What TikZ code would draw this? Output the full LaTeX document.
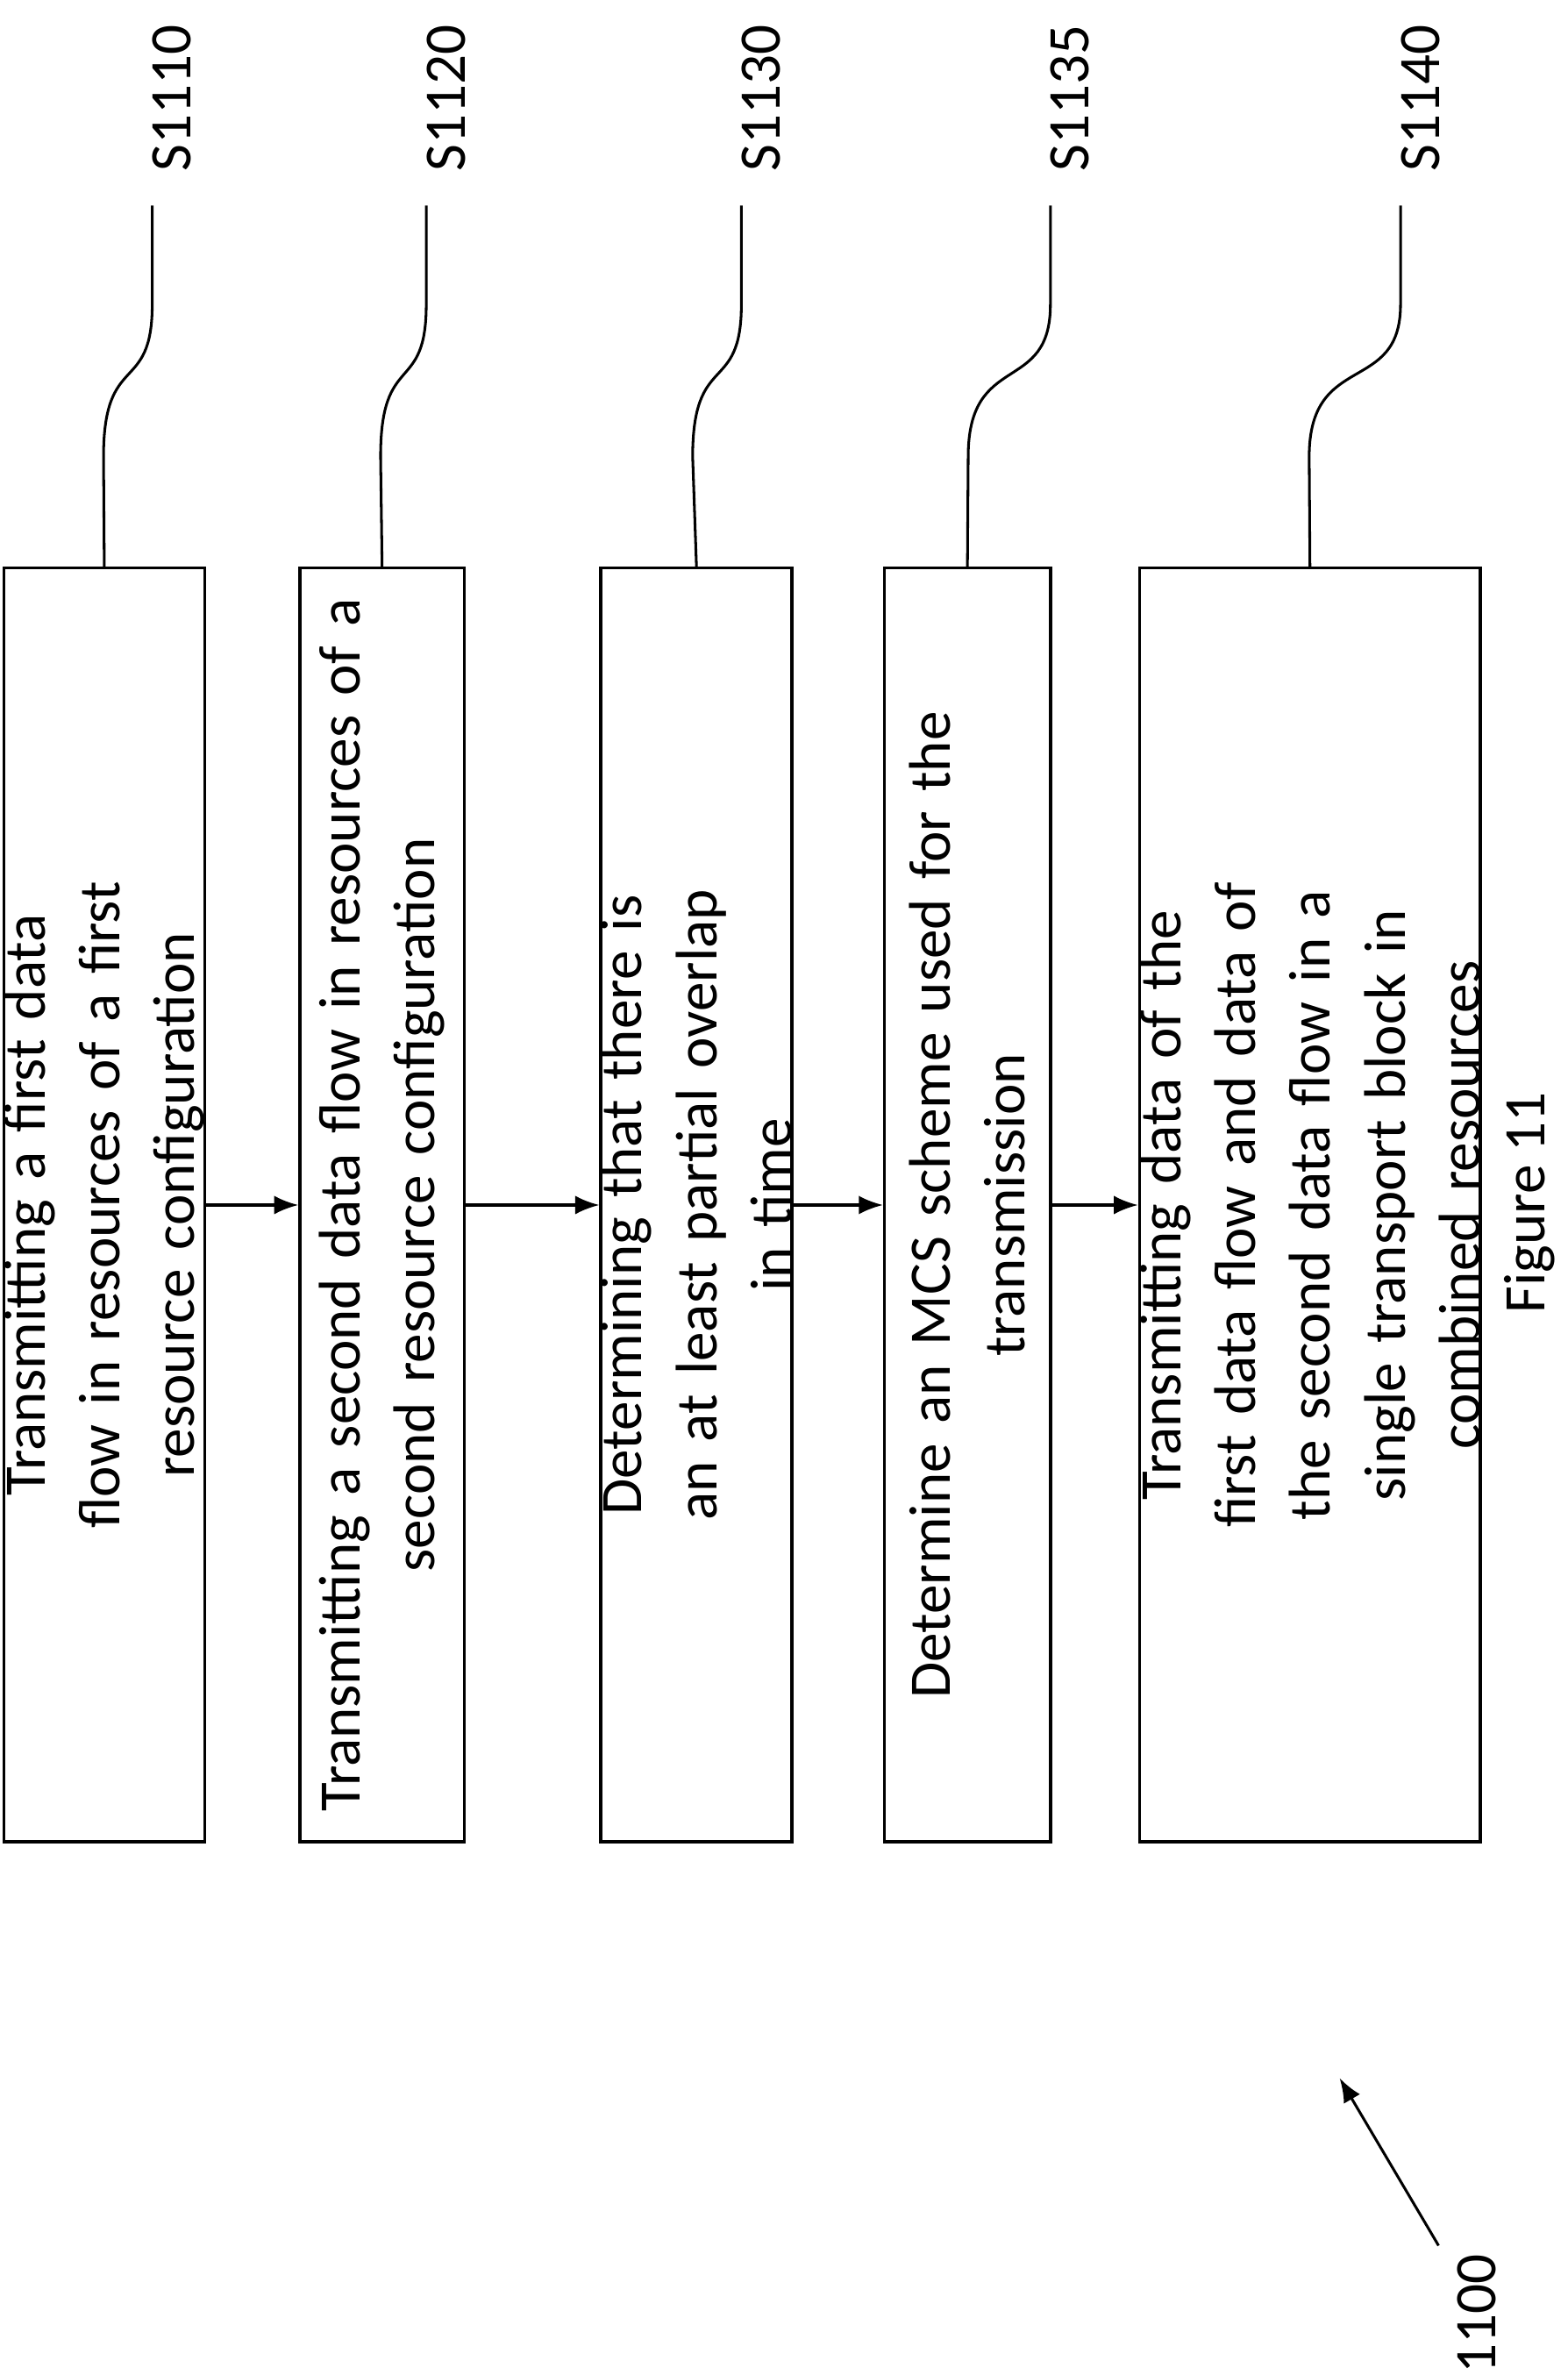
\documentclass[tikz,border=0pt]{standalone}
\usepackage{fontspec}
\setmainfont{Carlito}
\usetikzlibrary{arrows.meta,positioning}
\tikzset
{
    stepbox/.style  = {draw, line width=1.2pt, rotate=90, minimum width=16.74cm, align=center, text width=16.3cm,
                    inner sep=0pt, font=\fontsize{22}{28}\selectfont},
    steplabel/.style = {rotate=90, font=\fontsize{22}{28}\selectfont, anchor=east},
    leader/.style = {line width=1pt}
}
\begin{document}
\begin{tikzpicture}[x=0.02cm, y=-0.02cm, >={Latex[length=9pt,width=7pt]}]
    \useasboundingbox (0,0) rectangle (1030,1560);
    % steps
    \node [stepbox, minimum height=2.26cm] (s1) at (68.5,791.5) {Transmitting a first data flow in resources of a first\\resource configuration};
    \node [stepbox, minimum height=2.16cm] (s2) at (251,791.5) {Transmitting a second data flow in resources of a\\second resource configuration};
    \node [stepbox, minimum height=2.18cm] (s3) at (457.5,791.5) {Determining that there is an at least partial overlap\\in time};
    \node [stepbox, minimum height=2.18cm] (s4) at (635.5,791.5) {Determine an MCS scheme used for the\\transmission};
    \node [stepbox, minimum height=3.1cm] (s5) at (860.5,791.5) {Transmitting data of the first data flow and data of\\the second data flow in a single transport block in\\combined resources};
    % arrows
    \draw [->, line width=1pt] (s1.south) -- (s2.north);
    \draw [->, line width=1pt] (s2.south) -- (s3.north);
    \draw [->, line width=1pt] (s3.south) -- (s4.north);
    \draw [->, line width=1pt] (s4.south) -- (s5.north);
    % labels
    \foreach \n/\lx/\bx/\t in {s1/100/68/S1110, s2/280/250/S1120, s3/487/455/S1130, s4/690/636/S1135, s5/920/860/S1140}
    {
        \node [steplabel] (l\n) at (\lx+13,10) {\t};
        \coordinate (e\n) at (\lx,135);
        \draw [leader] (\n.east) -- (\bx,300) .. controls (\bx,230) and (\lx,260) .. (\lx,200) -- (e\n);
    }
    % figure
    \node [rotate=90, font=\fontsize{22}{28}\selectfont] (fig) at (1005,790) {Figure 11};
    \node [rotate=90, font=\fontsize{22}{28}\selectfont] (num) at (970,1520) {1100};
    \coordinate (tip) at (880,1365);
    \draw [->, line width=1pt] (945,1475) -- (tip);
\end{tikzpicture}
\end{document}
